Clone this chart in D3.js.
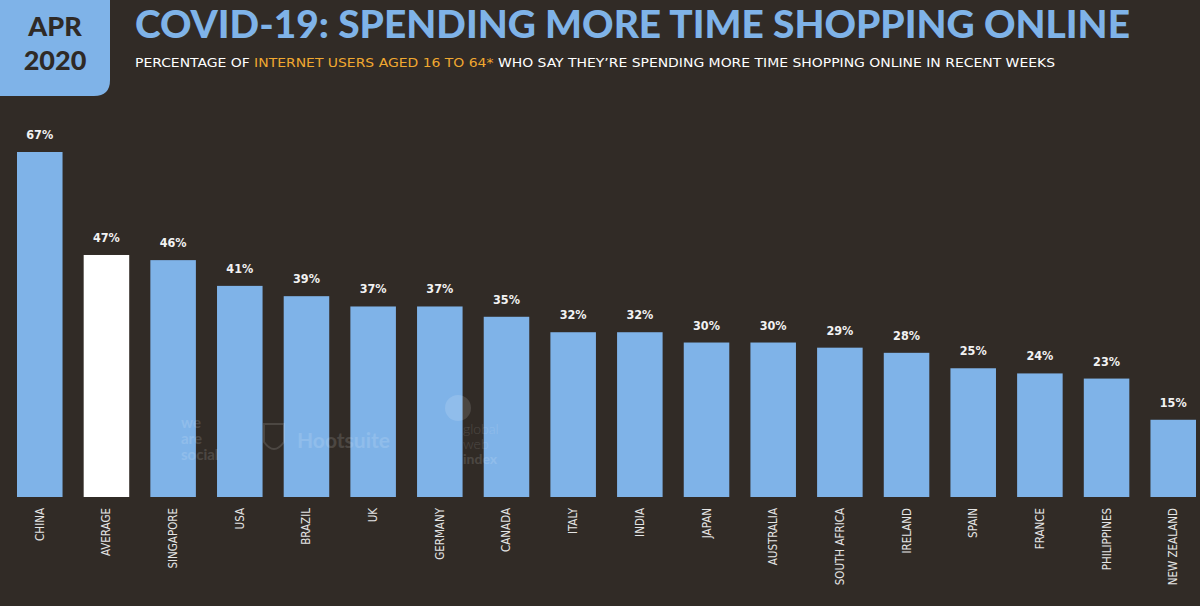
<!DOCTYPE html>
<html>
<head>
<meta charset="utf-8">
<script src="https://cdn.jsdelivr.net/npm/d3@7"></script>
<style>
  html, body { margin: 0; padding: 0; background: #312b26; }
  svg { display: block; }
</style>
</head>
<body>
<div id="chart"></div>
<script>
// data
const countries = ["CHINA", "AVERAGE", "SINGAPORE", "USA", "BRAZIL", "UK", "GERMANY", "CANADA", "ITALY",
  "INDIA", "JAPAN", "AUSTRALIA", "SOUTH AFRICA", "IRELAND", "SPAIN", "FRANCE", "PHILIPPINES", "NEW ZEALAND"];
const shares = [67, 47, 46, 41, 39, 37, 37, 35, 32, 32, 30, 30, 29, 28, 25, 24, 23, 15];
const highlight = ["AVERAGE"];

const W = 1200, H = 606;
const blue = "#7fb3e8";
const bg = "#312b26";

const svg = d3.select("#chart").append("svg")
  .attr("width", W)
  .attr("height", H)
  .style("background-color", bg);

// header tab
svg.append("path")
  .attr("d", "M0,0 H110 V80 Q110,96 94,96 H0 Z")
  .attr("fill", blue);
svg.append("text")
  .attr("x", 55).attr("y", 36)
  .attr("text-anchor", "middle")
  .style("font-family", "Lato, 'DejaVu Sans', sans-serif")
  .style("font-weight", 900)
  .style("font-size", "27px")
  .attr("fill", "#2f2a26")
  .text("APR");
svg.append("text")
  .attr("x", 55).attr("y", 70)
  .attr("text-anchor", "middle")
  .style("font-family", "Lato, 'DejaVu Sans', sans-serif")
  .style("font-weight", 900)
  .style("font-size", "27px")
  .attr("fill", "#2f2a26")
  .text("2020");

svg.append("text")
  .attr("x", 135).attr("y", 38)
  .attr("textLength", 995)
  .attr("lengthAdjust", "spacingAndGlyphs")
  .style("font-family", "Lato, 'DejaVu Sans', sans-serif")
  .style("font-weight", 900)
  .style("font-size", "38px")
  .attr("fill", blue)
  .text("COVID-19: SPENDING MORE TIME SHOPPING ONLINE");

const sub = svg.append("text")
  .attr("x", 135).attr("y", 67)
  .attr("textLength", 920)
  .attr("lengthAdjust", "spacingAndGlyphs")
  .style("font-family", "'DejaVu Sans Condensed', 'DejaVu Sans', sans-serif")
  .style("font-size", "13px")
  .attr("fill", "#ffffff");
sub.append("tspan").text("PERCENTAGE OF ");
sub.append("tspan").attr("fill", "#f0a830").text("INTERNET USERS AGED 16 TO 64*");
sub.append("tspan").text(" WHO SAY THEY\u2019RE SPENDING MORE TIME SHOPPING ONLINE IN RECENT WEEKS");

// scales
const margin = { top: 110, right: 4, bottom: 109, left: 17 };
const baseY = H - margin.bottom;

const x = d3.scaleBand()
  .domain(countries)
  .range([margin.left, W - margin.right])
  .paddingInner(0.317)
  .paddingOuter(0);

const y = d3.scaleLinear()
  .domain([0, 67])
  .range([baseY, 152]);

const data = countries.map((c, i) => ({ name: c, value: shares[i] }));

const bars = svg.append("g").attr("class", "bars");
bars.selectAll("rect")
  .data(data)
  .join("rect")
  .attr("x", d => x(d.name))
  .attr("y", d => y(d.value))
  .attr("width", x.bandwidth())
  .attr("height", d => baseY - y(d.value))
  .attr("fill", d => highlight.includes(d.name) ? "#ffffff" : blue);

// faint watermarks over the bars
const wm = svg.append("g")
  .style("font-family", "Lato, 'DejaVu Sans', sans-serif")
  .style("font-weight", 700)
  .attr("fill", "#ffffff")
  .attr("opacity", 0.13);
["we", "are", "social"].forEach((t, i) => {
  wm.append("text").attr("x", 181).attr("y", 428 + i * 16).style("font-size", "15px").text(t);
});
wm.append("path")
  .attr("d", "M264,424 h20 v18 q-10,14 -20,0 z")
  .attr("fill", "none").attr("stroke", "#ffffff").attr("stroke-width", 2);
wm.append("text").attr("x", 297).attr("y", 448).style("font-size", "21px").text("Hootsuite");
wm.append("circle").attr("cx", 458).attr("cy", 408).attr("r", 13);
["global", "web", "index"].forEach((t, i) => {
  wm.append("text").attr("x", 463).attr("y", 434 + i * 15)
    .style("font-size", "14px").style("font-weight", i == 2 ? 700 : 300).text(t);
});

svg.append("g")
  .selectAll("text")
  .data(data)
  .join("text")
  .attr("x", d => x(d.name) + x.bandwidth() / 2)
  .attr("y", d => y(d.value) - 13)
  .attr("text-anchor", "middle")
  .style("font-family", "'DejaVu Sans Condensed', 'DejaVu Sans', sans-serif")
  .style("font-weight", 700)
  .style("font-size", "12.5px")
  .attr("fill", "#f2f2f2")
  .text(d => d.value + "%");

const xAxis = g => g
  .attr("transform", `translate(0,${baseY})`)
  .call(d3.axisBottom(x).tickSize(0).tickPadding(0))
  .call(g => g.select(".domain").remove())
  .call(g => g.selectAll("text")
    .attr("transform", "translate(4,11) rotate(-90)")
    .attr("x", 0).attr("y", 0).attr("dy", 0)
    .attr("text-anchor", "end")
    .style("font-family", "'DejaVu Sans Condensed', 'DejaVu Sans', sans-serif")
    .style("font-size", "11.5px")
    .attr("fill", "#e4e4e4"));

svg.append("g").call(xAxis);
</script>
</body>
</html>
